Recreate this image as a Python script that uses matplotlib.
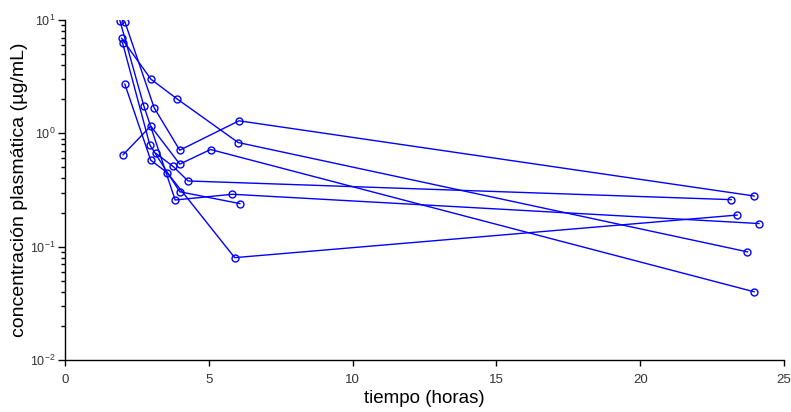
import numpy as np
import matplotlib
matplotlib.use("Agg")
from matplotlib import pyplot as plt
from matplotlib import rcParams

rcParams['font.family'] = ['Liberation Sans', 'DejaVu Sans']
rcParams['xtick.direction'] = 'out'
rcParams['ytick.direction'] = 'out'
rcParams['axes.linewidth'] = 1.0

# Time (hours) and plasma concentration (ug/mL), one list per subject
t1 = [2.08, 3.10, 3.99, 6.05, 23.96]
c1 = [9.66, 1.68, 0.71, 1.29, 0.28]

t2 = [1.97, 2.99, 3.90, 6.02, 23.73]
c2 = [6.89, 3.00, 2.01, 0.83, 0.09]

t3 = [2.02, 2.98, 3.99, 5.06, 23.96]
c3 = [0.647, 1.16, 0.535, 0.72, 0.04]

t4 = [1.91, 2.74, 3.83, 5.82, 24.13]
c4 = [9.86, 1.75, 0.258, 0.29, 0.16]

t5 = [2.00, 2.95, 3.99, 6.08]
c5 = [6.30, 0.79, 0.305, 0.24]

t6 = [2.08, 2.98, 3.55, 5.90, 23.37]
c6 = [2.72, 0.58, 0.45, 0.08, 0.19]

t7 = [3.16, 3.76, 4.28, 23.16]
c7 = [0.666, 0.51, 0.38, 0.26]

subjects = [(t1, c1), (t2, c2), (t3, c3), (t4, c4), (t5, c5), (t6, c6), (t7, c7)]

fig = plt.figure(figsize=(7.91, 4.12), dpi=100)
ax = fig.add_axes([65/791, 52/412, 719/791, 340/412])

for t, c in subjects:
    ax.plot(t, c, '-o', color='#0000ff', lw=1.0, markersize=5,
            markerfacecolor='none', markeredgecolor='#0000ff', markeredgewidth=1.0)

ax.set_yscale('log')
ax.set_ylim(0.01, 10)
ax.set_xlim(0, 25)
ax.set_xticks([0, 5, 10, 15, 20, 25])

ax.spines['top'].set_visible(False)
ax.spines['right'].set_visible(False)

ax.tick_params(axis='x', which='major', length=4, width=1, labelsize=9.5, labelcolor='#333333', pad=6)
ax.tick_params(axis='y', which='major', length=5, width=1, labelsize=9, labelcolor='#333333', pad=2)
ax.tick_params(axis='y', which='minor', length=3, width=1)

ax.set_xlabel('tiempo (horas)', fontsize=13.5, labelpad=3)
ax.set_ylabel('concentración plasmática (µg/mL)', fontsize=14, labelpad=1)

fig.savefig('out.png', dpi=100)
